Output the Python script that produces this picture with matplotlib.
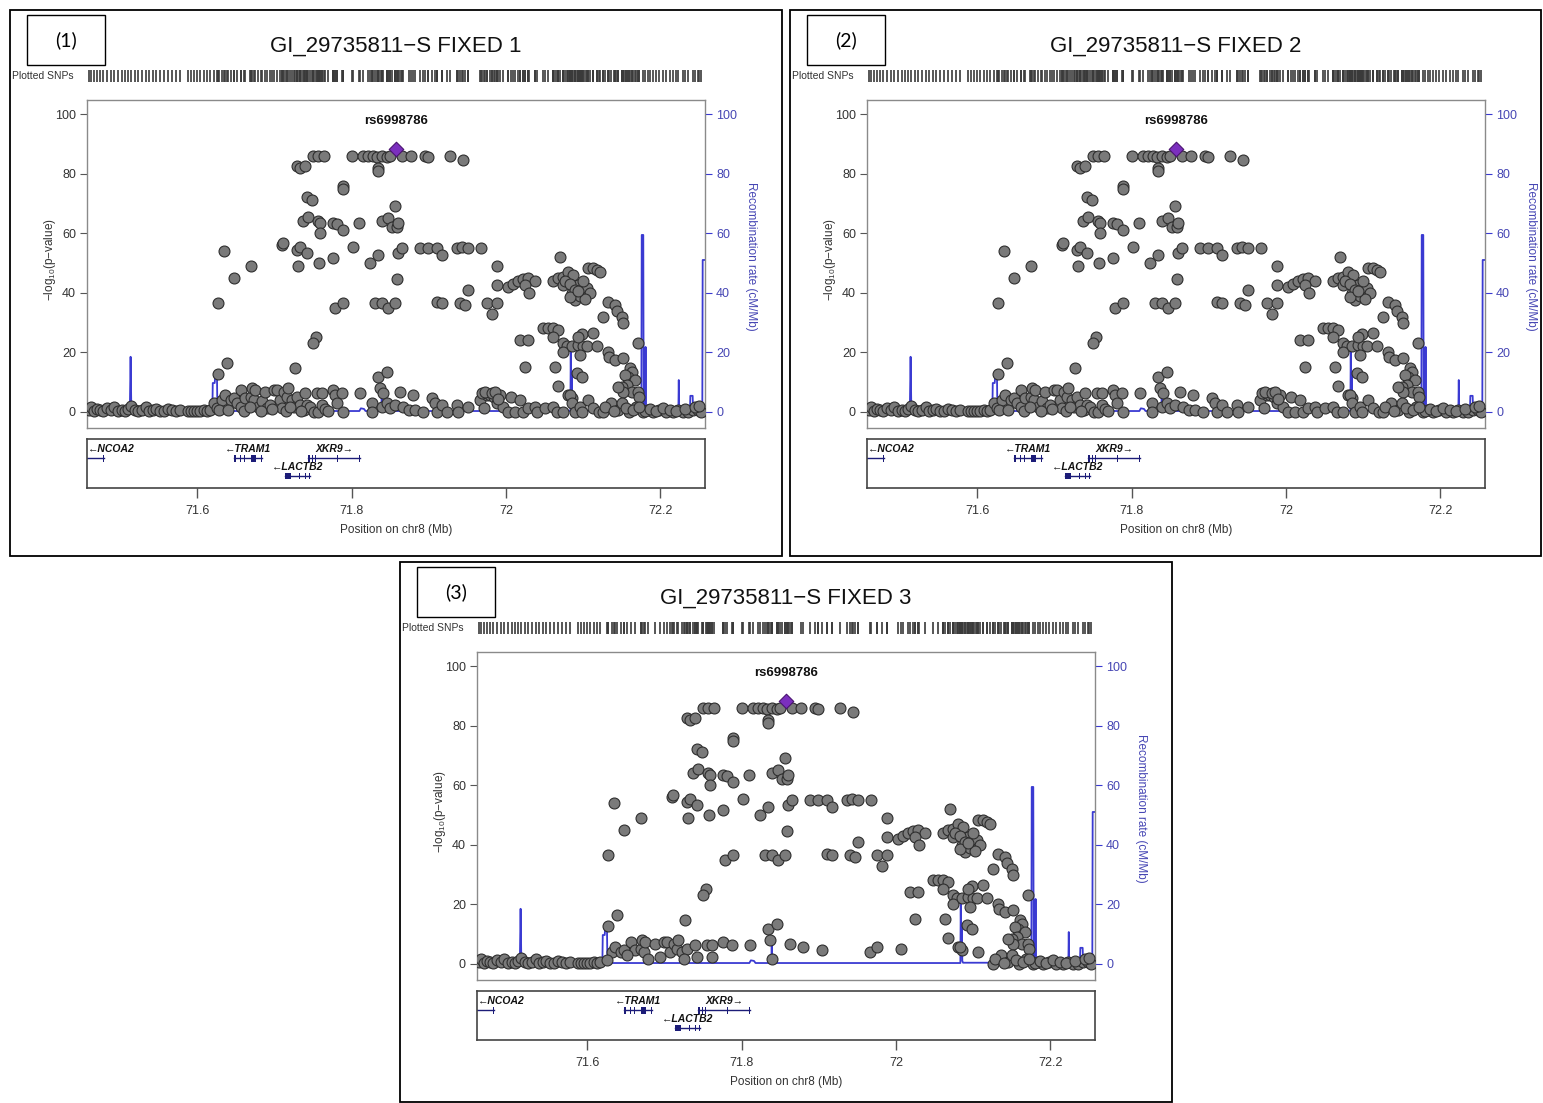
import matplotlib
matplotlib.use('Agg')
import matplotlib.pyplot as plt
from matplotlib.patches import Rectangle

plt.rcParams['font.family'] = ['Liberation Sans', 'DejaVu Sans']
plt.rcParams['mathtext.fontset'] = 'custom'
plt.rcParams['mathtext.rm'] = 'Liberation Sans'
plt.rcParams['mathtext.it'] = 'Liberation Sans:italic'

# ---------------- data ----------------
lead_name = 'rs6998786'
lead_x = 71.858
lead_y = 88.3

# associated SNPs (-log10 p >= ~4), common to all three panels
hi_x = [
    71.750, 71.757, 71.764, 71.801, 71.815, 71.821, 71.828, 71.833, 71.839, 71.846,
    71.850, 71.865, 71.877, 71.895, 71.899, 71.928, 71.944, 71.729, 71.733, 71.740,
    71.834, 71.834, 71.789, 71.789, 71.742, 71.749, 71.856, 71.737, 71.744, 71.757,
    71.759, 71.776, 71.781, 71.789, 71.759, 71.810, 71.839, 71.847, 71.852, 71.859,
    71.860, 71.634, 71.710, 71.711, 71.729, 71.733, 71.742, 71.802, 71.669, 71.731,
    71.758, 71.776, 71.824, 71.834, 71.860, 71.865, 71.889, 71.899, 71.911, 71.917,
    71.937, 71.943, 71.951, 71.968, 71.988, 72.070, 71.627, 71.648, 71.779, 71.789,
    71.754, 71.750, 71.727, 71.638, 71.627, 71.830, 71.839, 71.847, 71.856, 71.834,
    71.846, 71.859, 71.911, 71.917, 71.940, 71.947, 71.951, 71.988, 71.975, 71.988,
    71.982, 72.003, 72.009, 72.016, 72.022, 72.028, 72.038, 72.025, 72.030, 72.061,
    72.067, 72.074, 72.080, 72.087, 72.093, 72.105, 72.109, 72.085, 72.089, 72.074,
    72.106, 72.113, 72.118, 72.122, 72.076, 72.083, 72.089, 72.096, 72.102, 72.083,
    72.093, 72.100, 72.048, 72.054, 72.061, 72.067, 72.061, 72.074, 72.079, 72.074,
    72.085, 72.093, 72.098, 72.100, 72.105, 72.096, 72.113, 72.118, 72.018, 72.028,
    72.025, 72.063, 72.067, 72.092, 72.098, 72.132, 72.141, 72.144, 72.150, 72.152,
    72.126, 72.093, 72.171, 72.132, 72.134, 72.141, 72.152, 72.161, 72.163, 72.158,
    72.154, 72.167, 72.157, 72.150, 72.163, 72.152, 72.145, 72.171, 72.173, 72.080,
    72.085]
hi_y = [
    86, 86, 86, 86, 86, 86, 86, 85.6, 86, 85.6,
    86, 86, 86, 86, 85.6, 86, 84.6, 82.5, 82, 82.5,
    82, 80.8, 76, 74.8, 72, 71, 69, 64, 65.5, 64,
    63.5, 63.5, 63, 61, 60, 63.5, 64, 65, 62, 62,
    63.5, 54, 56, 56.7, 54.4, 55.4, 53.4, 55.4, 49, 49,
    50, 51.7, 50, 52.7, 53.4, 55, 55, 55, 55, 52.7,
    55, 55.4, 55, 55, 49, 52, 36.6, 45, 35, 36.6,
    25, 23, 14.8, 16.3, 12.7, 36.6, 36.6, 35, 36.6, 11.7,
    13.4, 44.6, 37, 36.6, 36.6, 36, 41, 42.6, 36.6, 36.6,
    33, 42, 43, 44, 44.6, 45, 44, 42.6, 40, 44,
    45, 45.3, 47, 46, 42.6, 41.6, 40, 40, 37.6, 42.6,
    48.3, 48.3, 47.6, 47, 44, 43, 41, 39, 38, 38.5,
    40.5, 44, 28, 28, 28, 27.5, 25, 23, 22, 20,
    22, 22.5, 26, 22, 22, 19, 26.5, 22, 24, 24,
    15, 15, 8.7, 13, 11.7, 37, 36, 34, 32, 30,
    32, 25, 23, 20, 18.5, 17.5, 18, 14.8, 13.4, 11.7,
    12.4, 10.7, 9, 8.4, 6.7, 6.7, 8.4, 6.7, 5, 5.7,
    4.7]

# low SNPs, left flank
left_x = [71.459, 71.462, 71.466, 71.470, 71.474, 71.478, 71.483, 71.488, 71.492, 71.497,
          71.502, 71.506, 71.510, 71.514, 71.519, 71.523, 71.528, 71.533, 71.537, 71.542,
          71.547, 71.552, 71.557, 71.562, 71.567, 71.572, 71.577, 71.588, 71.592, 71.596,
          71.600, 71.604, 71.608, 71.612, 71.616]
left_y = [0.8, 1.5, 0.3, 1.0, 0.5, 0.2, 1.2, 0.6, 1.8, 0.4,
          0.7, 0.2, 1.1, 2.0, 0.5, 0.3, 0.8, 1.5, 0.3, 0.6,
          1.0, 0.4, 0.2, 1.0, 0.7, 0.3, 0.5, 0.2, 0.3, 0.2,
          0.4, 0.3, 0.5, 0.2, 0.6]

# low SNPs, central region (panels 1 and 2)
mid_x = [
    71.621, 71.625, 71.632, 71.636, 71.643, 71.647, 71.651, 71.656, 71.656, 71.662,
    71.669, 71.671, 71.673, 71.675, 71.679, 71.684, 71.688, 71.690, 71.694, 71.699,
    71.703, 71.707, 71.710, 71.712, 71.716, 71.718, 71.723, 71.725, 71.729, 71.733,
    71.738, 71.740, 71.742, 71.746, 71.751, 71.755, 71.757, 71.761, 71.761, 71.776,
    71.779, 71.781, 71.787, 71.789, 71.811, 71.826, 71.826, 71.837, 71.841, 71.839,
    71.846, 71.850, 71.856, 71.628, 71.640, 71.660, 71.668, 71.682, 71.697, 71.715,
    71.720, 71.735, 71.766, 71.770, 71.863, 71.867, 71.874, 71.880, 71.882, 71.893,
    71.904, 71.908, 71.910, 71.917, 71.923, 71.936, 71.938, 71.951, 71.966, 71.971,
    71.975, 71.979, 71.984, 71.988, 71.992, 71.996, 72.003, 72.007, 72.012, 72.018,
    72.022, 72.029, 72.038, 72.040, 72.050, 72.061, 72.066, 72.074, 72.083, 72.085,
    72.089, 72.096, 72.098, 72.107, 72.113, 72.120, 71.969, 71.973, 71.982, 71.986,
    71.990]
mid_y = [
    2.9, 1.2, 4.0, 5.7, 4.0, 4.6, 2.9, 7.4, 1.8, 4.6,
    5.1, 8.0, 4.0, 7.4, 1.8, 3.5, 6.8, 1.2, 2.3, 7.4,
    7.4, 4.0, 1.2, 6.8, 5.1, 8.0, 4.0, 1.8, 5.1, 2.3,
    0.7, 6.3, 2.3, 1.8, 0.1, 6.3, 0.1, 6.3, 2.3, 7.4,
    5.7, 2.9, 6.3, 0.1, 6.3, 2.9, 0.1, 8.0, 6.3, 1.8,
    2.9, 1.2, 2.3, 0.5, 0.8, 0.3, 1.5, 0.4, 0.9, 0.3,
    1.5, 0.4, 1.0, 0.3, 6.8, 1.8, 0.7, 5.7, 0.7, 0.1,
    4.6, 2.9, 0.1, 2.3, 0.1, 2.3, 0.1, 1.8, 4.0, 1.2,
    5.7, 5.7, 5.1, 2.9, 5.7, 1.8, 0.1, 5.1, 0.1, 4.0,
    0.1, 1.2, 1.8, 0.1, 1.2, 1.8, 0.1, 0.1, 5.7, 2.9,
    0.1, 1.8, 0.1, 4.0, 1.2, 0.1, 6.3, 6.8, 6.5, 6.8,
    4.5]

# low SNPs, central region (panel 3)
mid3_x = [71.632, 71.636, 71.643, 71.647, 71.656, 71.662, 71.669, 71.671, 71.673, 71.675,
          71.688, 71.699, 71.703, 71.707, 71.712, 71.716, 71.718, 71.723, 71.729, 71.740,
          71.755, 71.761, 71.776, 71.787, 71.811, 71.837, 71.863, 71.880, 71.904, 71.966,
          71.975, 72.007, 72.083, 72.107, 71.625, 71.651, 71.679, 71.694, 71.725, 71.742,
          71.761, 71.839]
mid3_y = [4.0, 5.7, 4.0, 4.6, 7.4, 4.6, 5.1, 8.0, 4.0, 7.4,
          6.8, 7.4, 7.4, 4.0, 6.8, 5.1, 8.0, 4.0, 5.1, 6.3,
          6.3, 6.3, 7.4, 6.3, 6.3, 8.0, 6.8, 5.7, 4.6, 4.0,
          5.7, 5.1, 5.7, 4.0, 1.2, 2.9, 1.8, 2.3, 1.8, 2.3,
          2.3, 1.8]

# low SNPs, right flank
right_x = [72.126, 72.136, 72.145, 72.151, 72.160, 72.169, 72.177, 72.184, 72.190, 72.199,
           72.207, 72.216, 72.223, 72.229, 72.236, 72.242, 72.249, 72.253, 72.180, 72.187,
           72.195, 72.203, 72.212, 72.220, 72.232, 72.245, 72.250, 72.129, 72.140, 72.155,
           72.165, 72.173]
right_y = [0.1, 2.9, 0.7, 2.9, 0.1, 1.8, 0.1, 0.7, 0.1, 0.7,
           0.1, 0.1, 0.7, 0.1, 0.1, 0.7, 0.7, 0.1, 0.4, 1.0,
           0.3, 1.2, 0.5, 0.2, 0.9, 1.5, 2.0, 1.5, 0.4, 1.2,
           0.5, 1.5]

# recombination rate (cM/Mb)
rec_pos = [71.457, 71.5125, 71.5135, 71.5145, 71.6195, 71.620, 71.6225, 71.623, 71.6255, 71.626,
           71.700, 71.810, 71.812, 71.816, 71.818, 71.8385, 71.839, 71.8395, 71.950, 72.0835,
           72.084, 72.0845, 72.0855, 72.086, 72.087, 72.150, 72.1755, 72.176, 72.178, 72.1785,
           72.1805, 72.181, 72.1815, 72.2055, 72.206, 72.2065, 72.2235, 72.224, 72.2245, 72.2385,
           72.239, 72.242, 72.2425, 72.2515, 72.252, 72.2525, 72.2545, 72.255, 72.258]
rec_rate = [0.1, 0.1, 18.5, 0.1, 0.1, 9.7, 9.7, 11.4, 11.4, 0.3,
            0.3, 0.3, 1.2, 1.0, 0.3, 0.3, 6.0, 0.3, 0.3, 0.3,
            20.0, 4.0, 13.0, 1.0, 0.4, 0.4, 0.4, 59.4, 59.4, 2.5,
            2.5, 21.8, 0.5, 0.5, 2.5, 0.5, 0.5, 10.7, 0.5, 0.5,
            5.4, 5.4, 0.5, 0.5, 3.0, 0.5, 0.5, 51.0, 51.0]

# genes
gene_name = ['NCOA2', 'TRAM1', 'XKR9', 'LACTB2']
gene_start = [71.40, 71.648, 71.744, 71.713]
gene_end = [71.479, 71.684, 71.811, 71.746]
gene_strand = ['-', '-', '+', '-']
gene_row = [0, 0, 0, 1]
gene_exons = [
    [(71.4778, 71.479)],
    [(71.648, 71.6495), (71.655, 71.657), (71.660, 71.661), (71.670, 71.676), (71.683, 71.684)],
    [(71.744, 71.7455), (71.748, 71.750), (71.752, 71.7535), (71.781, 71.782), (71.8095, 71.811)],
    [(71.713, 71.721), (71.732, 71.7335), (71.739, 71.7405), (71.745, 71.746)],
]

xtick_vals = [71.6, 71.8, 72.0, 72.2]
xtick_labels = ['71.6', '71.8', '72', '72.2']
ytick_vals = [0, 20, 40, 60, 80, 100]

panel_tags = ['(1)', '(2)', '(3)']
panel_titles = ['GI_29735811\u2212S FIXED 1', 'GI_29735811\u2212S FIXED 2', 'GI_29735811\u2212S FIXED 3']

# ---------------- drawing ----------------
XMIN, XMAX = 71.457, 72.258
YMIN, YMAX = -5.4, 104.7
W, H = 1543, 1103
BLUE = '#3a3ad2'
NAVY = '#1c1c78'

fig = plt.figure(figsize=(W / 100, H / 100), dpi=100)


def box(x0, y0, x1, y1):
    return [x0 / W, 1 - y1 / H, (x1 - x0) / W, (y1 - y0) / H]


def ftext(px, py, s, **kw):
    fig.text(px / W, 1 - py / H, s, **kw)


def panel(ox, oy, pw, ph, tag, title, xs, ys):
    fig.add_artist(Rectangle((ox / W, 1 - (oy + ph) / H), pw / W, ph / H,
                             transform=fig.transFigure, fill=False, ec='black', lw=1.3))
    fig.add_artist(Rectangle(((ox + 17) / W, 1 - (oy + 55) / H), 78 / W, 50 / H,
                             transform=fig.transFigure, fill=False, ec='black', lw=1.0))
    ftext(ox + 56, oy + 30, tag, ha='center', va='center', fontsize=14,
          family=['Lato', 'DejaVu Sans'])
    ftext(ox + 386, oy + 36, title, ha='center', va='center', fontsize=16, color='#111111')
    ftext(ox + 2, oy + 66, 'Plotted SNPs', ha='left', va='center', fontsize=7.5, color='#333333')

    # rug of plotted SNPs
    rax = fig.add_axes(box(ox + 77, oy + 60, ox + 695, oy + 72))
    rax.vlines(xs, 0, 1, color='#3a3a3a', lw=1.2)
    rax.set_xlim(XMIN, XMAX)
    rax.set_ylim(0, 1)
    rax.axis('off')

    # main association plot
    ax = fig.add_axes(box(ox + 77, oy + 90, ox + 695, oy + 418))
    ax2 = ax.twinx()
    ax.set_zorder(ax2.get_zorder() + 1)
    ax.patch.set_visible(False)
    ax2.plot(rec_pos, rec_rate, color=BLUE, lw=1.3)
    ax2.set_ylim(YMIN, YMAX)
    for sp in ax2.spines.values():
        sp.set_visible(False)
    ax2.set_yticks(ytick_vals)
    ax2.tick_params(axis='y', direction='out', length=5, width=0.8, color=BLUE,
                    labelcolor='#4646b4', labelsize=9, pad=3)

    ax.set_xlim(XMIN, XMAX)
    ax.set_ylim(YMIN, YMAX)
    ax.scatter(xs, ys, s=62, c='#7a7a7a', edgecolors='#2e2e2e', linewidths=0.8, zorder=3)
    ax.scatter([lead_x], [lead_y], marker='D', s=55, c='#7b2fbe', edgecolors='#4a1470',
               linewidths=0.8, zorder=4)
    ax.text(lead_x, 97.6, lead_name, ha='center', va='center', fontsize=9.5, fontweight='bold',
            color='#111111')
    ax.set_xticks([])
    ax.set_yticks(ytick_vals)
    ax.tick_params(axis='y', direction='out', length=5, width=0.8, color='#555555',
                   labelcolor='#333333', labelsize=9, pad=3)
    for sp in ax.spines.values():
        sp.set_color('#8a8a8a')
        sp.set_linewidth(1.0)

    ftext(ox + 40, oy + 250, r'$-$log$_{10}$(p$-$value)', rotation=90, ha='center',
          va='center', fontsize=8.5, color='#333333')
    ftext(ox + 741, oy + 246, 'Recombination rate (cM/Mb)', rotation=270, ha='center',
          va='center', fontsize=8.5, color='#4646b4')

    # gene track
    gax = fig.add_axes(box(ox + 77, oy + 429, ox + 695, oy + 478))
    gax.set_xlim(XMIN, XMAX)
    gax.set_ylim(0, 1)
    for sp in gax.spines.values():
        sp.set_color('#444444')
        sp.set_linewidth(1.2)
    gax.set_yticks([])
    gax.set_xticks(xtick_vals)
    gax.set_xticklabels(xtick_labels, fontsize=9, color='#333333')
    gax.tick_params(axis='x', direction='out', length=7, width=1, color='#555555', pad=5)
    for name, s, e, strand, row, exons in zip(gene_name, gene_start, gene_end,
                                              gene_strand, gene_row, gene_exons, strict=True):
        yl = 0.61 if row == 0 else 0.245
        yt = 0.80 if row == 0 else 0.43
        gax.plot([max(s, XMIN), e], [yl, yl], color=NAVY, lw=1.0, clip_on=True)
        for a, b in exons:
            gax.add_patch(Rectangle((a, yl - 0.07), max(b - a, 0.0012), 0.14,
                                    color=NAVY, lw=0))
        label = '\u2190' + name if strand == '-' else name + '\u2192'
        if s < XMIN:
            gax.text(XMIN + 0.001, yt, label, ha='left', va='center', fontsize=7.5,
                     style='italic', fontweight='bold', color='#111111')
        else:
            gax.text((s + e) / 2, yt, label, ha='center', va='center', fontsize=7.5,
                     style='italic', fontweight='bold', color='#111111')
    ftext(ox + 386, oy + 520, 'Position on chr8 (Mb)', ha='center', va='center',
          fontsize=8.5, color='#333333')


x12 = hi_x + left_x + mid_x + right_x
y12 = hi_y + left_y + mid_y + right_y
x3 = hi_x + left_x + mid3_x + right_x
y3 = hi_y + left_y + mid3_y + right_y
assert len(x12) == len(y12) and len(x3) == len(y3) and len(rec_pos) == len(rec_rate)

panel(10, 10, 772, 546, panel_tags[0], panel_titles[0], x12, y12)
panel(790, 10, 751, 546, panel_tags[1], panel_titles[1], x12, y12)
panel(400, 562, 772, 540, panel_tags[2], panel_titles[2], x3, y3)

fig.savefig('out.png', dpi=100)
